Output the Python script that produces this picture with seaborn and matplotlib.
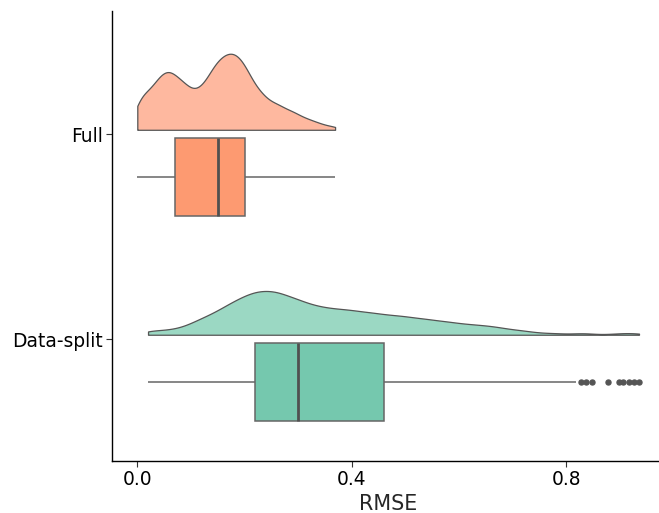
import numpy as np
import pandas as pd
import matplotlib
matplotlib.use("Agg")
import matplotlib.pyplot as plt
import seaborn as sns

# ---------------- data ----------------
groups = ["Full", "Data-split"]

full_values = [0.00, 0.01, 0.02, 0.03, 0.04, 0.05, 0.06, 0.07, 0.08, 0.09,
               0.10, 0.11, 0.12, 0.13, 0.14, 0.15, 0.16, 0.17, 0.18, 0.19,
               0.20, 0.21, 0.22, 0.23, 0.24, 0.25, 0.26, 0.27, 0.28, 0.29,
               0.30, 0.31, 0.32, 0.33, 0.34, 0.35, 0.36, 0.369]
full_counts = [9, 9, 10, 11, 14, 15, 16, 14, 13, 12,
               10, 10, 11, 13, 16, 18, 19, 20, 20, 19,
               17, 14, 11, 10, 8, 7, 7, 6, 5, 5,
               4, 3, 3, 2, 2, 1, 1, 1]

split_values = [0.02, 0.04, 0.06, 0.08, 0.10, 0.12, 0.14, 0.16, 0.18, 0.20,
                0.22, 0.24, 0.26, 0.28, 0.30, 0.32, 0.34, 0.36, 0.38, 0.40,
                0.42, 0.44, 0.46, 0.48, 0.50, 0.52, 0.54, 0.56, 0.58, 0.60,
                0.62, 0.64, 0.66, 0.68, 0.70, 0.72, 0.74, 0.76, 0.78, 0.80,
                0.818]
split_counts = [5, 5, 6, 8, 13, 19, 24, 31, 38, 44,
                49, 50, 49, 44, 40, 35, 32, 30, 29, 28,
                26, 25, 23, 22, 21, 19, 18, 16, 15, 13,
                12, 11, 10, 8, 6, 5, 3, 2, 2, 1,
                1]
split_outliers = [0.827, 0.837, 0.848, 0.879, 0.898, 0.907, 0.917, 0.926, 0.936]

y_positions = [1.0, 0.0]
box_colors = ["#fd9a71", "#75c8ae"]
dens_colors = ["#feb89f", "#9bd8c3"]
x_ticks = [0.0, 0.4, 0.8]
x_ticklabels = ["0.0", "0.4", "0.8"]

# ---------------- figure ----------------
sns.set_style("ticks")
plt.rcParams["font.family"] = ["DejaVu Sans"]

W, H = 659, 513
x0_px, x_unit = 137.3, 536.0
x_lo, x_hi = -0.0466, 0.983
left_px = x0_px + x_lo * x_unit
right_px = x0_px + x_hi * x_unit
fig = plt.figure(figsize=(W / 100, H / 100), dpi=100)
ax = fig.add_axes([left_px / W, (H - 461) / H, (right_px - left_px) / W, (461 - 11) / H])

full = np.repeat(full_values, full_counts).astype(float)
split = np.concatenate([np.repeat(split_values, split_counts), split_outliers]).astype(float)
samples = [full, split]
bws = [0.012, 0.017]

box_shift = -0.207
dens_shift = 0.022


def kde(s, bw, grid):
    z = (grid[:, None] - s[None, :]) / bw
    return np.exp(-0.5 * z ** 2).sum(1) / (len(s) * bw * np.sqrt(2 * np.pi))


curves = []
for s, bw in zip(samples, bws):
    grid = np.linspace(s.min(), s.max(), 600)
    curves.append((grid, kde(s, bw, grid)))
scale = 0.371 / max(c[1].max() for c in curves)

for (grid, d), yp, col in zip(curves, y_positions, dens_colors):
    base = yp + dens_shift
    ax.fill_between(grid, base, base + d * scale, facecolor=col,
                    edgecolor="#555555", linewidth=0.9, zorder=2)

df = pd.DataFrame({
    "RMSE": np.concatenate(samples),
    "group": np.concatenate([[g] * len(s) for g, s in zip(groups, samples)]),
})
df["pos"] = df["group"].map(dict(zip(groups, y_positions))) + box_shift

sns.boxplot(data=df, x="RMSE", y="pos", hue="group", hue_order=groups,
            palette=dict(zip(groups, box_colors)), orient="h", native_scale=True,
            width=0.38, saturation=1, linecolor="#666666", linewidth=1.1,
            showcaps=False, fliersize=3.6, legend=False,
            medianprops=dict(color="#505050", linewidth=2.0),
            flierprops=dict(marker="o", markerfacecolor="#555555",
                            markeredgecolor="#555555"),
            ax=ax)

ax.set_xlim(x_lo, x_hi)
ax.set_ylim(-0.594, 1.6015)
ax.set_yticks(y_positions)
ax.set_yticklabels(groups)
ax.set_xticks(x_ticks)
ax.set_xticklabels(x_ticklabels)
ax.set_ylabel("")
ax.set_xlabel("RMSE", fontsize=14.9, labelpad=3.5)

for sp in ["top", "right"]:
    ax.spines[sp].set_visible(False)
for sp in ["left", "bottom"]:
    ax.spines[sp].set_color("black")
    ax.spines[sp].set_linewidth(1.0)
ax.tick_params(axis="both", length=4, width=0.8, color="#333333",
               labelsize=13.4, labelcolor="black", pad=2.5)

fig.savefig("out.png", dpi=100)
